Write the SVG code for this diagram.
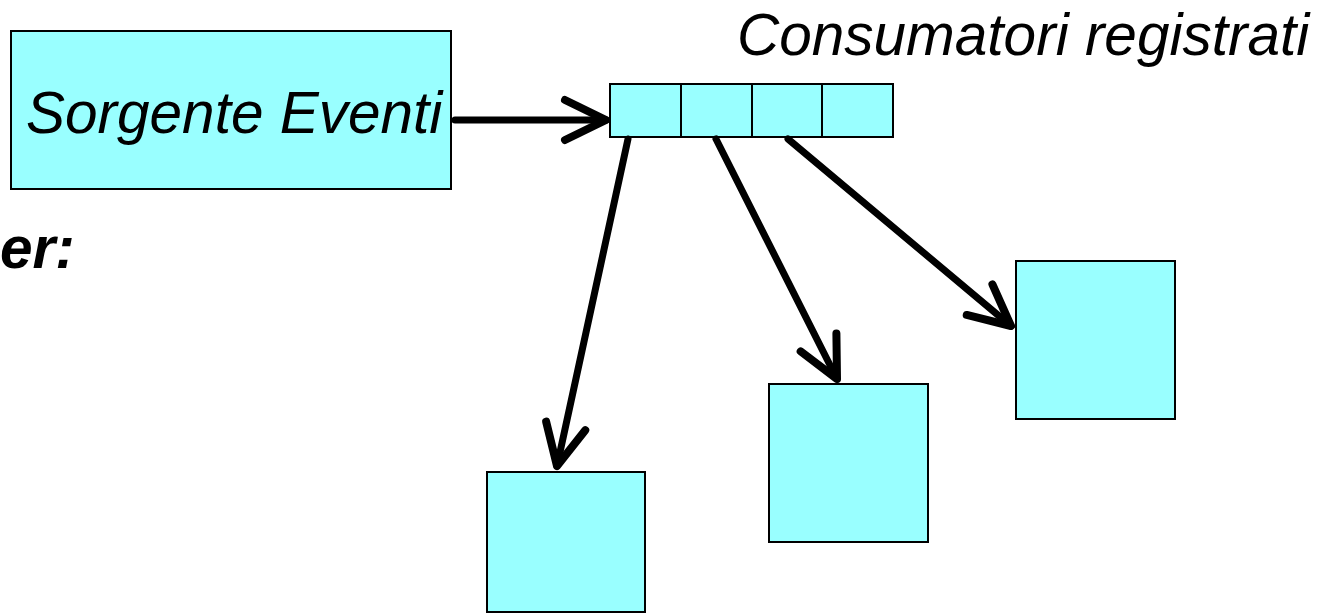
<svg xmlns="http://www.w3.org/2000/svg" width="1331" height="614" viewBox="0 0 1331 614">
<defs>
<style>
.box{fill:#99ffff;stroke:#000;stroke-width:2}
.lbl{font-family:"Liberation Sans",Arial,sans-serif;font-style:italic;font-size:58.5px;fill:#000}
.conn{stroke:#000;stroke-width:7;fill:none;stroke-linecap:round}
</style>
<marker id="arr" markerUnits="userSpaceOnUse" markerWidth="60" markerHeight="60" refX="0" refY="0" orient="auto" overflow="visible" viewBox="-50 -30 60 60">
<path d="M-41,-20 L0,0 L-41,20" fill="none" stroke="#000" stroke-width="8" stroke-linecap="round" stroke-linejoin="round"/>
</marker>
</defs>
<rect width="1331" height="614" fill="#fff"/>
<g id="source">
<rect class="box" x="11" y="31" width="440" height="158"/>
<text class="lbl" x="26" y="133">Sorgente Eventi</text>
</g>
<g id="title">
<text class="lbl" x="737" y="55">Consumatori registrati</text>
</g>
<g id="partial-label">
<text class="lbl" x="0" y="268" font-weight="bold">er:</text>
</g>
<g id="queue">
<rect class="box" x="610" y="84" width="283" height="53"/>
<line x1="681" y1="84" x2="681" y2="137" stroke="#000" stroke-width="2"/>
<line x1="752" y1="84" x2="752" y2="137" stroke="#000" stroke-width="2"/>
<line x1="822" y1="84" x2="822" y2="137" stroke="#000" stroke-width="2"/>
</g>
<g id="consumer1"><rect class="box" x="487" y="472" width="158" height="140"/></g>
<g id="consumer2"><rect class="box" x="769" y="384" width="159" height="158"/></g>
<g id="consumer3"><rect class="box" x="1016" y="261" width="159" height="158"/></g>
<g id="connectors">
<line class="conn" x1="455" y1="120" x2="606" y2="120" marker-end="url(#arr)"/>
<line class="conn" x1="628" y1="139" x2="557" y2="466" marker-end="url(#arr)"/>
<line class="conn" x1="716" y1="139" x2="837" y2="379" marker-end="url(#arr)"/>
<line class="conn" x1="788" y1="139" x2="1011" y2="326" marker-end="url(#arr)"/>
</g>
</svg>
